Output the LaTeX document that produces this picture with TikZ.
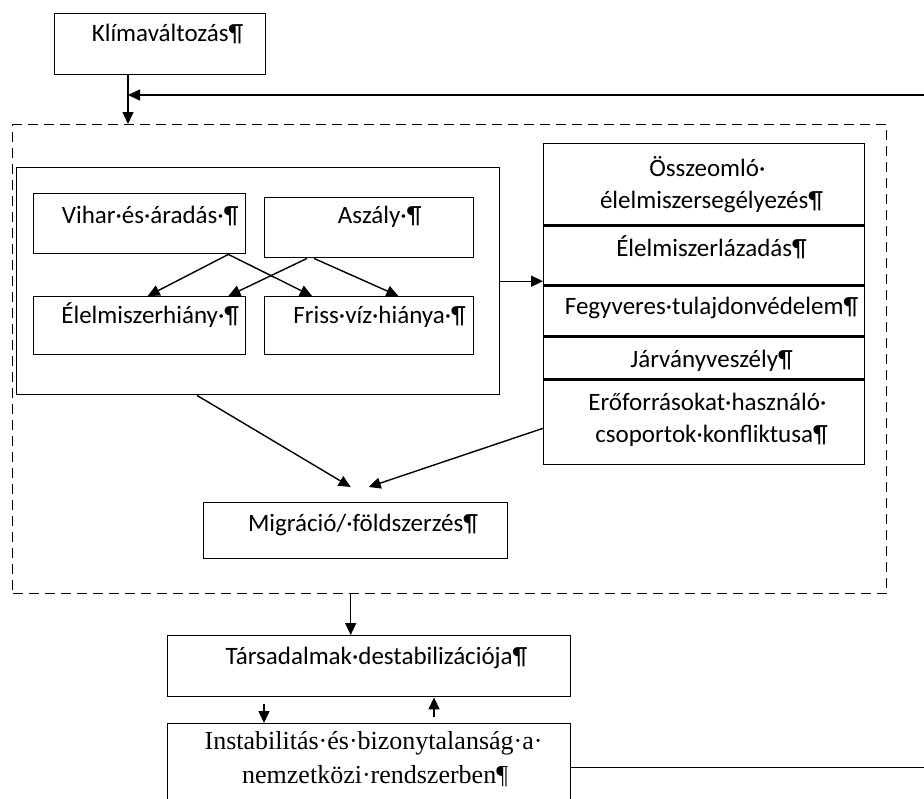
\documentclass[tikz,border=0pt]{standalone}
\usepackage{fontspec}
\setmainfont{Carlito}
\newfontfamily\serifbox{Liberation Serif}
\usetikzlibrary{arrows.meta}
\newcommand{\pmark}{\rlap{¶}}
\tikzset{
  box/.style={draw,line width=0.7pt,anchor=north west,inner xsep=0pt,inner ysep=0pt,
    align=center,font=\fontsize{12.5}{16}\selectfont},
  link/.style={line width=0.7pt,-{Triangle[length=6pt,width=5.5pt]}}
}
\begin{document}
\begin{tikzpicture}[x=0.5pt,y=-0.5pt]
\useasboundingbox (0,0) rectangle (924,798);
\clip (0,0) rectangle (924,798);

\path
    (54,13) node [box,minimum width=105.5pt,text height=14pt,text depth=16.5pt] (klima)
	{Klímaváltozás\pmark}
    (12,124) node [box,dash pattern=on 5pt off 3pt,minimum width=437pt,minimum height=234.5pt] (frame) {};

% natural hazards and their effects
\path
    (16,167) node [box,minimum width=241.5pt,minimum height=113.5pt] (hazards) {}
    (33,193) node [box,minimum width=106pt,text height=15pt,text depth=15pt] (vihar) {Vihar·és·áradás\rlap{·¶}}
    (264,197) node [box,minimum width=104.5pt,text height=13pt,text depth=17pt] (aszaly) {Aszály\rlap{·¶}}
    (33,296) node [box,minimum width=106pt,text height=13.5pt,text depth=15.5pt] (hiany) {Élelmiszerhiány\rlap{·¶}}
    (264,296) node [box,minimum width=104.5pt,text height=13.5pt,text depth=15.5pt] (friss) {Friss·víz·hiánya\rlap{·¶}};
\draw [link] ([xshift=-9pt]vihar.south east) -- ([xshift=4pt]hiany.north);
\draw [link] ([xshift=-9pt]vihar.south east) -- ([xshift=24pt]friss.north west);
\draw [link] ([xshift=21.5pt]aszaly.south west) -- ([xshift=-9pt]hiany.north east);
\draw [link] ([xshift=25pt]aszaly.south west) -- ([xshift=-38pt]friss.north east);

% social consequences
\path
    [minimum width=160.5pt]
    (543,143) node [box,text height=32.5pt,text depth=8pt] (osszeomlo)
	{Összeomló\rlap{·}\\élelmiszersegélyezés\pmark}
    (osszeomlo.south west) node [box,text height=15pt,text depth=14.5pt] (lazadas) {Élelmiszerlázadás\pmark}
    (lazadas.south west) node [box,text height=14pt,text depth=10.5pt] (fegyveres) {Fegyveres·tulajdonvédelem\pmark}
    (fegyveres.south west) node [box,text height=15.5pt,text depth=5.5pt] (jarvany) {Járványveszély\pmark}
    (jarvany.south west) node [box,text height=31pt,text depth=11pt] (eroforras)
	{Erőforrásokat·használó\rlap{·}\\csoportok·konfliktusa\pmark};
\draw [link] (hazards.east) -- (hazards.east -| lazadas.west);

\path
    (203,502) node [box,minimum width=152pt,text height=14.5pt,text depth=13.5pt] (migracio) {Migráció/·földszerzés\pmark}
    (167,635) node [box,minimum width=201.5pt,text height=14.5pt,text depth=16pt] (tarsadalom)
	{Társadalmak·destabilizációja\pmark}
    (167,723) node [box,minimum width=201.5pt,text height=30pt,text depth=14pt,font=\serifbox\fontsize{13}{17}\selectfont] (instab)
	{Instabilitás·és·bizonytalanság·a\rlap{·}\\nemzetközi·rendszerben\pmark};
\coordinate (migL) at ([xshift=-2.5pt,yshift=7.5pt]migracio.north);
\coordinate (migR) at ([xshift=6.5pt,yshift=7.5pt]migracio.north);
\draw [link] ([xshift=90.5pt]hazards.south west) -- (migL);
\draw [link] ([yshift=-3pt]eroforras.west) -- (migR);

% feedback loop
\coordinate (feed) at (128,95);
\coordinate (down) at ([xshift=-9.25pt]tarsadalom.north);
\draw [link] (klima.south -| feed) -- (frame.north -| feed);
\draw [link] (frame.south -| down) -- (down);
\draw [link] ([xshift=48.5pt,yshift=-3.5pt]tarsadalom.south west) -- ([xshift=48.5pt]instab.north west);
\draw [link] ([xshift=133.5pt,yshift=3pt]instab.north west) -- ([xshift=133.5pt]tarsadalom.south west);
\draw [link] (instab.east) -- ++(370,0) |- (feed);
\end{tikzpicture}
\end{document}
